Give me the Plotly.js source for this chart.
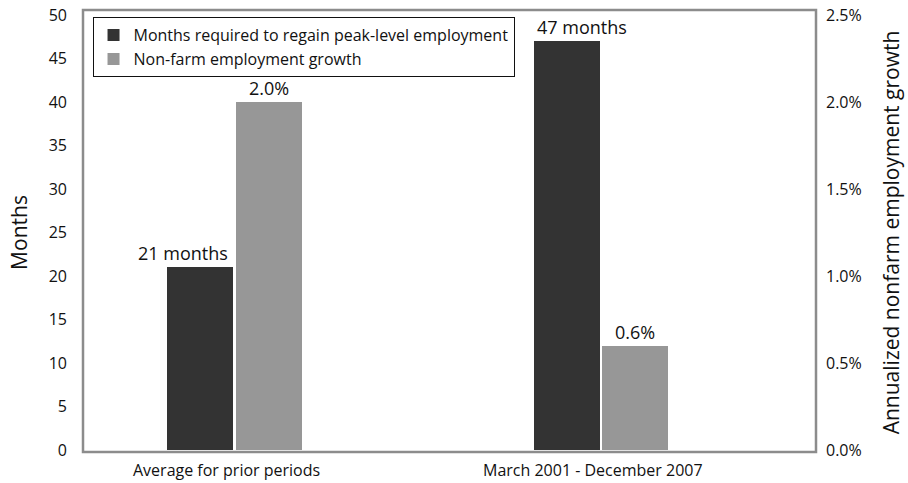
<!DOCTYPE html>
<html>
<head>
<meta charset="utf-8">
<script src="https://cdn.plot.ly/plotly-3.0.1.min.js"></script>
<style>html,body{margin:0;padding:0;background:#fff;}#chart{width:908px;height:483px;}</style>
</head>
<body>
<div id="chart"></div>
<script>
const categories = ["Average for prior periods", "March 2001 - December 2007"];
const monthsToRegain = [21, 47];
const employmentGrowth = [0.020, 0.006];
const monthsLabels = ["21 months", "47 months"];
const growthLabels = ["2.0%", "0.6%"];
const leftTicks = [0, 5, 10, 15, 20, 25, 30, 35, 40, 45, 50];
const rightTicks = [0, 0.005, 0.01, 0.015, 0.02, 0.025];
const rightTickText = ["0.0%", "0.5%", "1.0%", "1.5%", "2.0%", "2.5%"];

const FONT = "'Open Sans', sans-serif";
const barW = 0.18;
const darkOff = -0.27;
const lightOff = -0.083;
const xIdx = categories.map((c, i) => i);

const traces = [
  {
    type: "bar", name: "Months required to regain peak-level employment",
    x: xIdx, y: monthsToRegain, yaxis: "y",
    width: barW, offset: darkOff,
    marker: {color: "#333333", line: {width: 0}},
    hoverinfo: "y"
  },
  {
    type: "bar", name: "Non-farm employment growth",
    x: xIdx, y: employmentGrowth, yaxis: "y2",
    width: barW, offset: lightOff,
    marker: {color: "#979797", line: {width: 0}},
    hoverinfo: "y"
  }
];

const annotations = [];
const nudgeMonths = [-17, 15];
xIdx.forEach((i) => {
  annotations.push({
    x: i + darkOff + barW / 2, y: monthsToRegain[i], xref: "x", yref: "y",
    text: monthsLabels[i], showarrow: false, yanchor: "bottom", yshift: 0, xshift: nudgeMonths[i],
    font: {family: FONT, size: 18, color: "#111"}
  });
  annotations.push({
    x: i + lightOff + barW / 2, y: employmentGrowth[i], xref: "x", yref: "y2",
    text: growthLabels[i], showarrow: false, yanchor: "bottom", yshift: 0,
    font: {family: FONT, size: 18, color: "#111"}
  });
  annotations.push({
    x: i, y: 0, xref: "x", yref: "y",
    text: categories[i], showarrow: false, yanchor: "top", yshift: -7, xshift: -40,
    font: {family: FONT, size: 16, color: "#111"}
  });
});

const layout = {
  width: 908, height: 483,
  margin: {l: 83, r: 92, t: 15, b: 33},
  paper_bgcolor: "#fff", plot_bgcolor: "#fff",
  font: {family: FONT, color: "#111"},
  showlegend: true,
  legend: {
    x: 0.013, y: 0.995, xanchor: "left", yanchor: "top",
    bordercolor: "#111", borderwidth: 1, bgcolor: "#fff",
    font: {family: FONT, size: 16, color: "#111"},
    traceorder: "normal", tracegroupgap: 0
  },
  xaxis: {
    range: [-0.5, 1.5], showticklabels: false, showgrid: false, zeroline: false,
    ticks: "", showline: false, fixedrange: true
  },
  yaxis: {
    range: [0, 50], tickvals: leftTicks, showgrid: false, zeroline: false,
    ticks: "", showline: false, ticklabelstandoff: 15,
    tickfont: {family: FONT, size: 16, color: "#111"},
    title: {text: "Months", font: {family: FONT, size: 21, color: "#111"}, standoff: 15}
  },
  yaxis2: {
    range: [0, 0.025], overlaying: "y", side: "right",
    tickvals: rightTicks, ticktext: rightTickText, showgrid: false, zeroline: false,
    ticks: "", showline: false, ticklabelstandoff: 9,
    tickfont: {family: FONT, size: 16, color: "#111"},
    title: {text: "Annualized nonfarm employment growth", font: {family: FONT, size: 21, color: "#111"}, standoff: 23}
  },
  shapes: [{
    type: "rect", xref: "paper", yref: "paper",
    x0: 0, x1: 1, y0: -2 / 435, y1: 1 + 5 / 435,
    line: {color: "#8c8c8c", width: 2.5}, fillcolor: "rgba(0,0,0,0)", layer: "above"
  }],
  annotations: annotations,
  bargap: 0
};

Plotly.newPlot("chart", traces, layout, {displayModeBar: false, staticPlot: true});
</script>
</body>
</html>
